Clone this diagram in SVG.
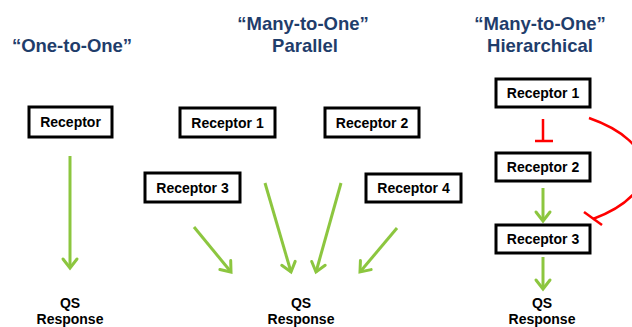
<svg xmlns="http://www.w3.org/2000/svg" width="632" height="327" viewBox="0 0 632 327">
<defs>
<marker id="ah" markerUnits="userSpaceOnUse" markerWidth="24" markerHeight="24" viewBox="-12 -12 24 24" refX="0" refY="0" orient="auto" overflow="visible">
<path d="M-9,-7 L0,0 L-9,7" fill="none" stroke="#8cc63f" stroke-width="3" stroke-linecap="round" stroke-linejoin="miter"/>
</marker>
</defs>
<style>
.title{font-family:"Liberation Sans",Arial,sans-serif;font-weight:bold;font-size:18.5px;fill:#1f3d6b;text-anchor:middle}
.lbl{font-family:"Liberation Sans",Arial,sans-serif;font-weight:bold;font-size:14px;fill:#000;text-anchor:middle}
.box{fill:#fff;stroke:#000;stroke-width:3}
.act{stroke:#8cc63f;stroke-width:3;fill:none;marker-end:url(#ah)}
.inh{stroke:#ff0000;stroke-width:2.5;fill:none}
</style>
<rect width="632" height="327" fill="#fff"/>
<g id="titles">
<text class="title" x="72" y="52">“One-to-One”</text>
<text class="title" x="303" y="30">“Many-to-One”</text>
<text class="title" x="305" y="52">Parallel</text>
<text class="title" x="540" y="30">“Many-to-One”</text>
<text class="title" x="540" y="52">Hierarchical</text>
</g>
<g id="connectors">
<line class="act" x1="70" y1="156" x2="70" y2="268"/>
<line class="act" x1="194" y1="227" x2="231" y2="272"/>
<line class="act" x1="265" y1="183" x2="291" y2="272"/>
<line class="act" x1="341" y1="183" x2="316" y2="272"/>
<line class="act" x1="397" y1="228" x2="360" y2="272"/>
<line class="act" x1="543" y1="188" x2="543" y2="221"/>
<line class="act" x1="543" y1="257" x2="543" y2="289"/>
<path class="inh" d="M543,119 L543,141 M535,141 L553,141"/>
<path class="inh" d="M589,118 C658,142 665,192 593,219"/>
<path class="inh" d="M584,212 L602,225"/>
</g>
<g id="one-receptor"><rect class="box" x="29" y="107" width="83" height="30"/><text class="lbl" x="70.5" y="127">Receptor</text></g>
<g id="par-receptor1"><rect class="box" x="180" y="108" width="95" height="29"/><text class="lbl" x="227.5" y="127.5">Receptor 1</text></g>
<g id="par-receptor2"><rect class="box" x="325" y="108" width="94" height="29"/><text class="lbl" x="372" y="127.5">Receptor 2</text></g>
<g id="par-receptor3"><rect class="box" x="145" y="173" width="95" height="29"/><text class="lbl" x="192.5" y="192.5">Receptor 3</text></g>
<g id="par-receptor4"><rect class="box" x="366" y="174" width="95" height="28"/><text class="lbl" x="413.5" y="193">Receptor 4</text></g>
<g id="hier-receptor1"><rect class="box" x="496" y="79" width="94" height="28"/><text class="lbl" x="543" y="98">Receptor 1</text></g>
<g id="hier-receptor2"><rect class="box" x="496" y="153" width="94" height="28"/><text class="lbl" x="543" y="172">Receptor 2</text></g>
<g id="hier-receptor3"><rect class="box" x="496" y="225" width="94" height="28"/><text class="lbl" x="543" y="244">Receptor 3</text></g>
<g id="qs-one"><text class="lbl" x="70" y="308">QS</text><text class="lbl" x="70" y="324">Response</text></g>
<g id="qs-par"><text class="lbl" x="301" y="308">QS</text><text class="lbl" x="301" y="324">Response</text></g>
<g id="qs-hier"><text class="lbl" x="542" y="308">QS</text><text class="lbl" x="542" y="324">Response</text></g>
</svg>
